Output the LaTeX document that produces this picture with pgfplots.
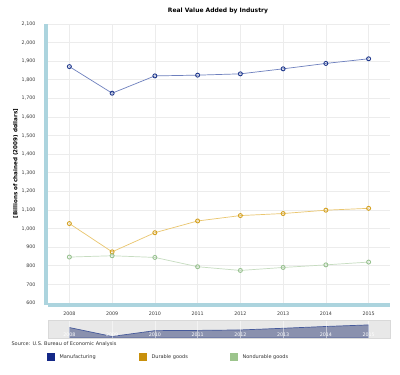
\documentclass[border=0pt]{standalone}
\usepackage{pgfplots}
\pgfplotsset{compat=1.18}
\usepackage{fontspec}
\setmainfont{DejaVu Sans}
\definecolor{barblue}{RGB}{172,212,222}
\definecolor{gridc}{RGB}{236,236,236}
\definecolor{ticktxt}{RGB}{60,60,60}
\definecolor{manl}{RGB}{110,128,190}
\definecolor{manm}{RGB}{30,55,140}
\definecolor{durl}{RGB}{234,198,110}
\definecolor{durm}{RGB}{212,160,30}
\definecolor{nonl}{RGB}{198,220,192}
\definecolor{nonm}{RGB}{152,194,144}
\definecolor{legman}{RGB}{20,40,135}
\definecolor{legdur}{RGB}{200,144,12}
\definecolor{legnon}{RGB}{156,196,140}
\definecolor{navbg}{RGB}{232,232,232}
\definecolor{navfill}{RGB}{128,136,168}
\definecolor{navline}{RGB}{70,90,155}
\pgfplotstableread{
year man dur non
2008 1871 1027 847
2009 1728 875 854
2010 1821 978 845
2011 1825 1041 795
2012 1832 1070 775
2013 1859 1081 791
2014 1888 1099 805
2015 1913 1109 820
}\datatable
\begin{document}
\begin{tikzpicture}
\path[fill=white] (0pt,0pt) rectangle (400pt,375pt);
% title
\node[font=\bfseries\fontsize{6}{7}\selectfont] at (218pt,364pt) {Real Value Added by Industry};
% y label
\node[font=\bfseries\fontsize{5.6}{6}\selectfont, rotate=90] at (15.5pt,211.5pt) {[Billions of chained (2009) dollars]};
\begin{axis}[
  at={(48pt,72pt)}, anchor=south west,
  scale only axis, width=342pt, height=279pt,
  xmin=2007.5, xmax=2015.5, ymin=600, ymax=2100,
  xtick={2008,2009,2010,2011,2012,2013,2014,2015},
  ytick={600,700,800,900,1000,1100,1200,1300,1400,1500,1600,1700,1800,1900,2000,2100},
  xticklabel style={/pgf/number format/1000 sep={}},
  yticklabel style={/pgf/number format/1000 sep={,}},
  /pgf/number format/assume math mode=true,
  tick label style={font=\fontsize{4.8}{5}\selectfont, text=ticktxt},
  xticklabel shift=5pt, yticklabel shift=9pt,
  major tick length=0pt,
  grid=major, grid style={gridc, line width=0.6pt},
  axis line style={draw=none},
]
\addplot[manl, line width=0.7pt, mark=o, mark size=2pt, mark options={draw=manm, fill=white, line width=0.9pt}] table[x=year,y=man] {\datatable};
\addplot[durl, line width=0.7pt, mark=o, mark size=2pt, mark options={draw=durm, fill=white, line width=0.9pt}] table[x=year,y=dur] {\datatable};
\addplot[nonl, line width=0.7pt, mark=o, mark size=2pt, mark options={draw=nonm, fill=white, line width=0.9pt}] table[x=year,y=non] {\datatable};
\end{axis}
\draw[barblue, line width=4.5pt] (45.8pt,70pt) -- (45.8pt,351pt);
\draw[barblue, line width=4pt] (48pt,70pt) -- (390pt,70pt);
% navigator
\begin{axis}[
  at={(48pt,37pt)}, anchor=south west,
  scale only axis, width=342pt, height=18pt,
  xmin=2007.5, xmax=2015.5, ymin=1703, ymax=1992,
  xtick={2008,2009,2010,2011,2012,2013,2014,2015}, ytick=\empty,
  xticklabel style={/pgf/number format/1000 sep={}, font=\fontsize{4.8}{5}\selectfont, text=white, anchor=base, yshift=1.5pt},
  xticklabel shift=0pt,
  /pgf/number format/assume math mode=true,
  major tick length=0pt,
  axis on top,
  xmajorgrids, grid style={white, opacity=0.5, line width=0.4pt},
  axis background/.style={fill=navbg},
  axis line style={draw=gray!30},
]
\addplot[navline, line width=0.7pt, fill=navfill, fill opacity=0.9] table[x=year,y=man] {\datatable} \closedcycle;
\end{axis}
% source and legend
\node[anchor=west, font=\fontsize{5}{6}\selectfont, text=black!80] at (8pt,31pt) {Source: U.S. Bureau of Economic Analysis};
\fill[legman] (47pt,14pt) rectangle (55pt,22pt);
\node[anchor=west, font=\fontsize{5}{6}\selectfont, text=black!80] at (56pt,18pt) {Manufacturing};
\fill[legdur] (139pt,14pt) rectangle (147pt,22pt);
\node[anchor=west, font=\fontsize{5}{6}\selectfont, text=black!80] at (148pt,18pt) {Durable goods};
\fill[legnon] (230pt,14pt) rectangle (238pt,22pt);
\node[anchor=west, font=\fontsize{5}{6}\selectfont, text=black!80] at (239pt,18pt) {Nondurable goods};
\end{tikzpicture}
\end{document}
